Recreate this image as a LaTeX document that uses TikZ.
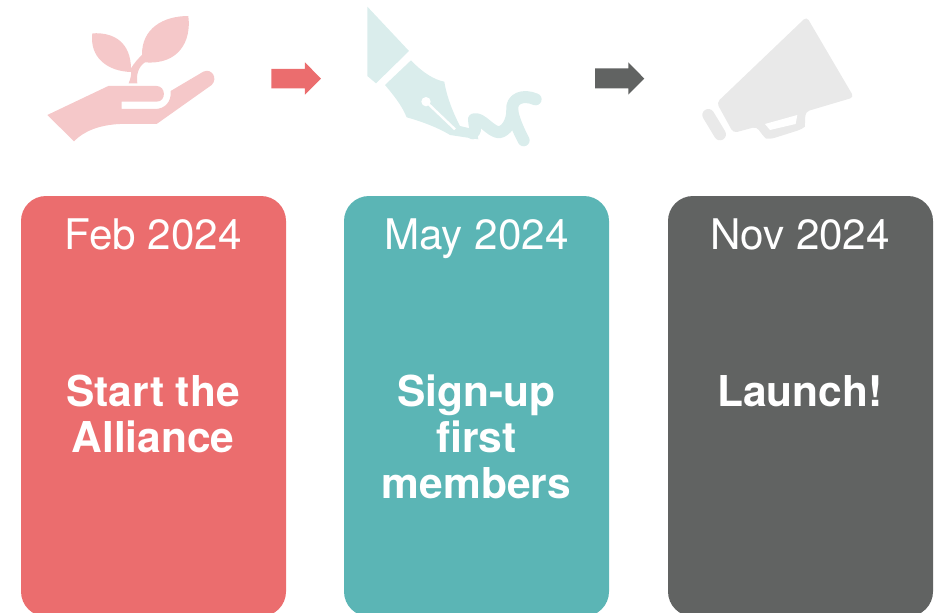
\documentclass[tikz,border=0pt]{standalone}
\usepackage{fontspec}
\setmainfont{TeX Gyre Heros}
\definecolor{cred}{HTML}{EB6D6E}
\definecolor{cteal}{HTML}{5BB5B5}
\definecolor{cgray}{HTML}{616362}
\definecolor{lred}{HTML}{F5C8C9}
\definecolor{lteal}{HTML}{DAEDEC}
\definecolor{lgray}{HTML}{E9E9E9}
\tikzset{
  card/.style={rounded corners=25pt},
  datelabel/.style={text=white,font=\fontsize{42.2}{46}\selectfont,anchor=base},
  titlelabel/.style={text=white,font=\fontsize{42.5}{46}\selectfont\bfseries,align=center,anchor=base},
  icon/.style={x=0.3333pt,y=-0.3333pt}
}
\begin{document}
\begin{tikzpicture}[x=1pt,y=-1pt]
\useasboundingbox (0,0) rectangle (940,613);
\clip (0,0) rectangle (940,613);
% cards
\fill[cred,card] (21,196) rectangle (286,616.5);
\fill[cteal,card] (344,196) rectangle (609,616.5);
\fill[cgray,card] (668,196) rectangle (933,616.5);
% hand icon
\begin{scope}[shift={(30,0)},icon]
\fill[lred] (52,345) -- (235,258) -- (380,258)
  .. controls (408,258) and (410,305) .. (380,305) -- (275,305) -- (275,327) -- (375,327)
  .. controls (405,327) and (425,305) .. (422,273) -- (520,215)
  .. controls (545,203) and (565,235) .. (545,255) -- (380,372) -- (270,372)
  .. controls (205,375) and (160,395) .. (132,424) -- cycle;
\fill[lred] (296,250) .. controls (302,235) and (304,225) .. (303,216)
  .. controls (230,214) and (178,170) .. (187,100)
  .. controls (255,96) and (302,130) .. (303,205)
  .. controls (312,190) and (325,175) .. (336,165)
  .. controls (335,85) and (400,48) .. (475,48)
  .. controls (485,125) and (445,195) .. (345,187)
  .. controls (325,200) and (318,225) .. (322,250) -- cycle;
\fill[cred] (724,207) -- (825,207) -- (825,187) -- (873,236) -- (825,284) -- (825,265) -- (724,265) -- cycle;
\end{scope}
% pen icon
\begin{scope}[shift={(350,0)},icon]
\fill[lteal] (52,20) -- (177,153) -- (78,250) -- (52,228) -- cycle;
\fill[lteal] (105,255) -- (183,181) .. controls (220,220) and (255,240) .. (283,245)
  .. controls (290,290) and (310,340) .. (330,378) -- (380,390) -- (385,418) -- (300,405)
  .. controls (260,380) and (200,360) .. (170,352) .. controls (155,315) and (130,285) .. (105,255) -- cycle;
\draw[lteal,line width=12pt,line cap=round,line join=round]
  (368,400) .. controls (382,392) and (372,375) .. (372,358)
  .. controls (395,352) and (420,395) .. (447,397)
  .. controls (470,393) and (487,365) .. (487,330)
  .. controls (483,295) and (520,282) .. (557,298);
\draw[lteal,line width=12pt,line cap=round] (487,335) .. controls (495,370) and (508,395) .. (521,421);
\fill[white] (228,305) circle[radius=14];
\draw[white,line width=2.4pt] (228,305) -- (315,388);
\end{scope}
% megaphone icon
\begin{scope}[shift={(585,0)},icon]
\fill[cgray] (30,205) -- (130,205) -- (130,187) -- (178,236) -- (130,284) -- (130,265) -- (30,265) -- cycle;
\fill[lgray,rounded corners=4pt] (395,308) -- (665,50) -- (807,292) -- (662,335)
  .. controls (660,360) and (660,380) .. (650,388) -- (555,418) .. controls (540,415) and (525,395) .. (515,380)
  -- (445,399) -- cycle;
\fill[white] (540,372) -- (637,345) -- (632,372) -- (555,390) -- cycle;
\draw[lgray,line width=12pt,line cap=round] (370,345) -- (405,403);
\end{scope}
% labels
\node[datelabel] (d1) at (153,249) {Feb 2024};
\node[datelabel] (d2) at (476.5,249) {May 2024};
\node[datelabel] (d3) at (800,249) {Nov 2024};
\node[titlelabel] (t1) at (153,452) {Start the\\Alliance};
\node[titlelabel] (t2) at (476.5,498) {Sign-up\\first\\members};
\node[titlelabel] (t3) at (800,406) {Launch!};
\end{tikzpicture}
\end{document}
